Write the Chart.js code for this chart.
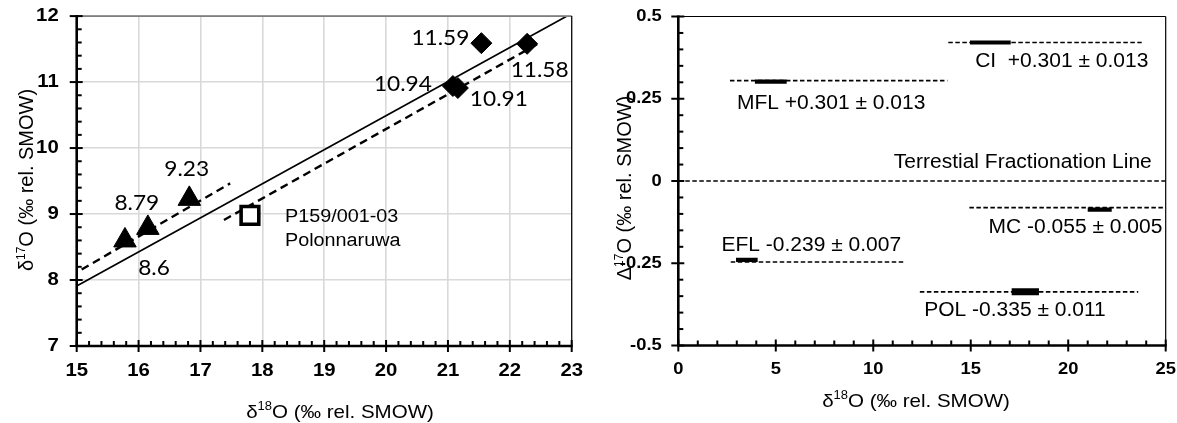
<!DOCTYPE html>
<html>
<head>
<meta charset="utf-8">
<script src="https://cdn.jsdelivr.net/npm/chart.js@4.4.1/dist/chart.umd.min.js"></script>
<style>
  html, body { margin: 0; padding: 0; background: #fff; }
  #wrap { position: relative; width: 1177px; height: 423px; overflow: hidden; }
  #left { position: absolute; left: 0; top: 0; }
  #right { position: absolute; left: 600px; top: 0; }
</style>
</head>
<body>
<div id="wrap">
  <canvas id="left" width="600" height="423"></canvas>
  <canvas id="right" width="577" height="423"></canvas>
</div>
<script>
// ---- left panel: d18O vs d17O ----
const triX = [15.78, 16.15, 16.82];
const triY = [8.6, 8.79, 9.23];
const diaX = [21.08, 21.16, 21.54, 22.28];
const diaY = [10.94, 10.91, 11.59, 11.58];
const polX = [17.8];
const polY = [8.98];
const polName = ['P159/001-03', 'Polonnaruwa'];
const tflX = [15, 23];
const tflY = [7.91, 12.04];
const fitDiaX = [17.38, 22.51];
const fitDiaY = [8.91, 11.61];
const fitTriX = [15.08, 17.48];
const fitTriY = [8.16, 9.465];
const leftXTicks = [15, 16, 17, 18, 19, 20, 21, 22, 23];
const leftYTicks = [7, 8, 9, 10, 11, 12];

// ---- right panel: d18O vs D17O ----
const groupText = ['CI  +0.301 \u00b1 0.013', 'MFL +0.301 \u00b1 0.013', 'MC -0.055 \u00b1 0.005', 'EFL -0.239 \u00b1 0.007', 'POL -0.335 \u00b1 0.011'];
const lineY = [0.421, 0.305, -0.081, -0.246, -0.337];
const lineFrom = [13.85, 2.65, 14.93, 2.69, 12.39];
const lineTo = [23.77, 13.8, 25, 11.58, 23.59];
const barY = [0.421, 0.302, -0.087, -0.240, -0.337];
const barFrom = [14.96, 3.93, 21.0, 2.96, 17.1];
const barTo = [17.05, 5.56, 22.23, 4.07, 18.5];
const terrX = [0, 25];
const terrY = [0, 0];
const terrText = 'Terrestial Fractionation Line';
const rightXTicks = [0, 5, 10, 15, 20, 25];
const rightYTicks = [-0.5, -0.25, 0, 0.25, 0.5];

const FONT = '"Liberation Sans", Arial, sans-serif';

function pts(xs, ys) {
    return xs.map((x, i) => ({ x: x, y: ys[i] }));
}

function stretchText(ctx, s, x, y, font, align, sx) {
    ctx.save();
    ctx.font = font;
    ctx.textBaseline = 'middle';
    ctx.textAlign = align;
    ctx.fillStyle = '#000';
    ctx.translate(x, y);
    ctx.scale(sx, 1);
    ctx.fillText(s, 0, 0);
    ctx.restore();
}

// text with a superscript part, centred on (cx, cy)
function richText(ctx, parts, cx, cy, size, sx, rotate) {
    ctx.save();
    ctx.translate(cx, cy);
    ctx.scale(sx, 1);
    if (rotate) ctx.rotate(-Math.PI / 2);
    ctx.fillStyle = '#000';
    ctx.textAlign = 'left';
    ctx.textBaseline = 'alphabetic';
    const fonts = parts.map(p => (p.sup ? Math.round(size * 0.62) : size) + 'px ' + FONT);
    let total = 0;
    const widths = parts.map((p, i) => {
        ctx.font = fonts[i];
        const w = ctx.measureText(p.t).width;
        total += w;
        return w;
    });
    let x = -total / 2;
    parts.forEach((p, i) => {
        ctx.font = fonts[i];
        ctx.fillText(p.t, x, size * 0.36 - (p.sup ? size * 0.42 : 0));
        x += widths[i];
    });
    ctx.restore();
}

function seg(ctx, x1, y1, x2, y2) {
    ctx.beginPath();
    ctx.moveTo(x1, y1);
    ctx.lineTo(x2, y2);
    ctx.stroke();
}

// frame, inner minor ticks, tick labels and axis titles
const framePlugin = {
    id: 'frame',
    afterDraw(chart, args, o) {
        const { ctx, chartArea: a } = chart;
        const x = chart.scales.x, y = chart.scales.y;
        ctx.save();
        ctx.lineCap = 'butt';
        ctx.strokeStyle = o.topColor;
        ctx.lineWidth = o.topWidth;
        seg(ctx, a.left, a.top, a.right, a.top);
        ctx.strokeStyle = '#000';
        ctx.lineWidth = 1.2;
        seg(ctx, a.right, a.top, a.right, a.bottom);

        ctx.lineWidth = 2;
        const nx = Math.round((x.max - x.min) / o.xMinor);
        for (let i = 0; i <= nx; i++) {
            const v = x.min + i * o.xMinor;
            const px = x.getPixelForValue(v);
            const major = Math.abs(v / o.xMajor - Math.round(v / o.xMajor)) < 1e-6;
            seg(ctx, px, a.bottom + (major ? 6 : 0), px, a.bottom - (major ? 6 : 5));
        }
        const ny = Math.round((y.max - y.min) / o.yMinor);
        for (let i = 0; i <= ny; i++) {
            const v = y.min + i * o.yMinor;
            const py = y.getPixelForValue(v);
            const major = Math.abs(v / o.yMajor - Math.round(v / o.yMajor)) < 1e-6;
            seg(ctx, a.left - (major ? 7 : 0), py, a.left + (major ? 6 : 5), py);
        }
        ctx.lineWidth = 2.6;
        seg(ctx, a.left, a.top - 1, a.left, a.bottom + 1);
        seg(ctx, a.left - 1, a.bottom, a.right + 1, a.bottom);

        const tf = 'bold ' + o.tickSize + 'px ' + FONT;
        o.xTicks.forEach(v => stretchText(ctx, String(v), x.getPixelForValue(v), o.xTickY, tf, 'center', o.tickStretch));
        o.yTicks.forEach(v => stretchText(ctx, String(v), a.left - o.yTickGap, y.getPixelForValue(v), tf, 'right', o.tickStretch));

        richText(ctx, [{ t: '\u03b4' }, { t: '18', sup: true }, { t: 'O (\u2030 rel. SMOW)' }], o.xTitle[0], o.xTitle[1], o.titleSize, 1.08, false);
        richText(ctx, [{ t: o.yTitleSym }, { t: '17', sup: true }, { t: 'O (\u2030 rel. SMOW)' }], o.yTitle[0], o.yTitle[1], o.titleSize + 1, 1.0, true);
        ctx.restore();
    }
};

// value labels beside the points of the left panel
const pointLabelPlugin = {
    id: 'pointLabels',
    afterDatasetsDraw(chart, args, o) {
        const ctx = chart.ctx;
        (o.items || []).forEach(it => {
            const el = chart.getDatasetMeta(it.ds).data[it.idx];
            const lines = [].concat(it.text);
            const gap = it.lineGap || 0;
            lines.forEach((s, k) => {
                stretchText(ctx, s, el.x + it.dx, el.y + it.dy + k * gap, it.font, it.align || 'center', it.sx);
            });
        });
    }
};

// free text placed at data coordinates (right panel)
const noteLabelPlugin = {
    id: 'notes',
    afterDatasetsDraw(chart, args, o) {
        const ctx = chart.ctx;
        (o.items || []).forEach(it => {
            stretchText(ctx, it.text, chart.scales.x.getPixelForValue(it.at[0]), chart.scales.y.getPixelForValue(it.at[1]), o.font, 'center', o.sx);
        });
    }
};

const numFont = '21px Lato, "Noto Sans", sans-serif';

new Chart(document.getElementById('left').getContext('2d'), {
    type: 'scatter',
    data: {
        datasets: [
            { data: pts(triX, triY), pointStyle: 'triangle', pointRadius: 13, pointHoverRadius: 13, backgroundColor: '#000', borderColor: '#000', borderWidth: 1 },
            { data: pts(diaX, diaY), pointStyle: 'rectRot', pointRadius: 10.5, pointHoverRadius: 10.5, backgroundColor: '#000', borderColor: '#000', borderWidth: 1 },
            { data: pts(polX, polY), pointStyle: 'rect', pointRadius: 12.5, pointHoverRadius: 12.5, backgroundColor: '#fff', borderColor: '#000', borderWidth: 3.6 },
            { data: pts(fitTriX, fitTriY), showLine: true, pointRadius: 0, borderColor: '#000', borderWidth: 2.4, borderDash: [8, 5] },
            { data: pts(fitDiaX, fitDiaY), showLine: true, pointRadius: 0, borderColor: '#000', borderWidth: 2.4, borderDash: [8, 5] },
            { data: pts(tflX, tflY), showLine: true, pointRadius: 0, borderColor: '#000', borderWidth: 1.7 }
        ]
    },
    options: {
        responsive: false,
        animation: false,
        events: [],
        layout: { padding: { top: 16, right: 28.3, bottom: 0, left: 0 } },
        scales: {
            x: {
                type: 'linear', min: 15, max: 23,
                ticks: { display: false, stepSize: 1 },
                grid: { color: '#d9d9d9', lineWidth: 1.6, drawTicks: false },
                border: { display: false },
                afterFit: s => { s.height = 77; }
            },
            y: {
                type: 'linear', min: 7, max: 12,
                ticks: { display: false, stepSize: 1 },
                grid: { color: '#d9d9d9', lineWidth: 1.6, drawTicks: false },
                border: { display: false },
                afterFit: s => { s.width = 76.7; }
            }
        },
        plugins: {
            legend: { display: false },
            tooltip: { enabled: false },
            frame: {
                topColor: '#7f7f7f', topWidth: 1.8,
                xMinor: 0.2, xMajor: 1, yMinor: 0.2, yMajor: 1,
                xTicks: leftXTicks, yTicks: leftYTicks,
                tickSize: 18.5, tickStretch: 1.1, xTickY: 371, yTickGap: 18,
                titleSize: 19, xTitle: [340, 411], yTitle: [26, 180], yTitleSym: '\u03b4'
            },
            pointLabels: {
                items: [
                    { ds: 0, idx: 0, text: String(triY[0]), dx: 29, dy: 28, font: numFont, sx: 1.08 },
                    { ds: 0, idx: 1, text: String(triY[1]), dx: -11, dy: -24.5, font: numFont, sx: 1.08 },
                    { ds: 0, idx: 2, text: String(triY[2]), dx: -2.6, dy: -29.5, font: numFont, sx: 1.08 },
                    { ds: 1, idx: 0, text: String(diaY[0]), dx: -50, dy: -2, font: numFont, sx: 1.08 },
                    { ds: 1, idx: 1, text: String(diaY[1]), dx: 41, dy: 11, font: numFont, sx: 1.08 },
                    { ds: 1, idx: 2, text: String(diaY[2]), dx: -41, dy: -5, font: numFont, sx: 1.08 },
                    { ds: 1, idx: 3, text: String(diaY[3]), dx: 12.5, dy: 26, font: numFont, sx: 1.08 },
                    { ds: 2, idx: 0, text: polName, dx: 35, dy: 1.4, lineGap: 24, align: 'left', font: '18px ' + FONT, sx: 1.1 }
                ]
            }
        }
    },
    plugins: [framePlugin, pointLabelPlugin]
});

const rightSets = [];
groupText.forEach((g, i) => {
    rightSets.push({ data: pts([barFrom[i], barTo[i]], [barY[i], barY[i]]), showLine: true, pointRadius: 0, borderColor: '#000', borderWidth: i === 4 ? 7 : 4.2, borderCapStyle: 'butt' });
});
groupText.forEach((g, i) => {
    rightSets.push({ data: pts([lineFrom[i], lineTo[i]], [lineY[i], lineY[i]]), showLine: true, pointRadius: 0, borderColor: '#000', borderWidth: 1.6, borderDash: [4.5, 2.5] });
});
rightSets.push({ data: pts(terrX, terrY), showLine: true, pointRadius: 0, borderColor: '#000', borderWidth: 1.6, borderDash: [4.5, 2.5] });

new Chart(document.getElementById('right').getContext('2d'), {
    type: 'scatter',
    data: { datasets: rightSets },
    options: {
        responsive: false,
        animation: false,
        events: [],
        layout: { padding: { top: 16.5, right: 11.3, bottom: 0, left: 0 } },
        scales: {
            x: {
                type: 'linear', min: 0, max: 25,
                ticks: { display: false, stepSize: 5 },
                grid: { display: false },
                border: { display: false },
                afterFit: s => { s.height = 77.5; }
            },
            y: {
                type: 'linear', min: -0.5, max: 0.5,
                ticks: { display: false, stepSize: 0.25 },
                grid: { display: false },
                border: { display: false },
                afterFit: s => { s.width = 78.3; }
            }
        },
        plugins: {
            legend: { display: false },
            tooltip: { enabled: false },
            frame: {
                topColor: '#000', topWidth: 1.2,
                xMinor: 1, xMajor: 5, yMinor: 0.05, yMajor: 0.25,
                xTicks: rightXTicks, yTicks: rightYTicks,
                tickSize: 17, tickStretch: 1.08, xTickY: 369.5, yTickGap: 16.6,
                titleSize: 19, xTitle: [316, 400], yTitle: [24, 188], yTitleSym: '\u0394'
            },
            notes: {
                font: '20px ' + FONT, sx: 1.05,
                items: [
                    { text: groupText[0], at: [19.67, 0.3633] },
                    { text: groupText[1], at: [7.84, 0.237] },
                    { text: terrText, at: [17.67, 0.0576] },
                    { text: groupText[2], at: [20.37, -0.1418] },
                    { text: groupText[3], at: [6.82, -0.1973] },
                    { text: groupText[4], at: [17.27, -0.3948] }
                ]
            }
        }
    },
    plugins: [framePlugin, noteLabelPlugin]
});
</script>
</body>
</html>
